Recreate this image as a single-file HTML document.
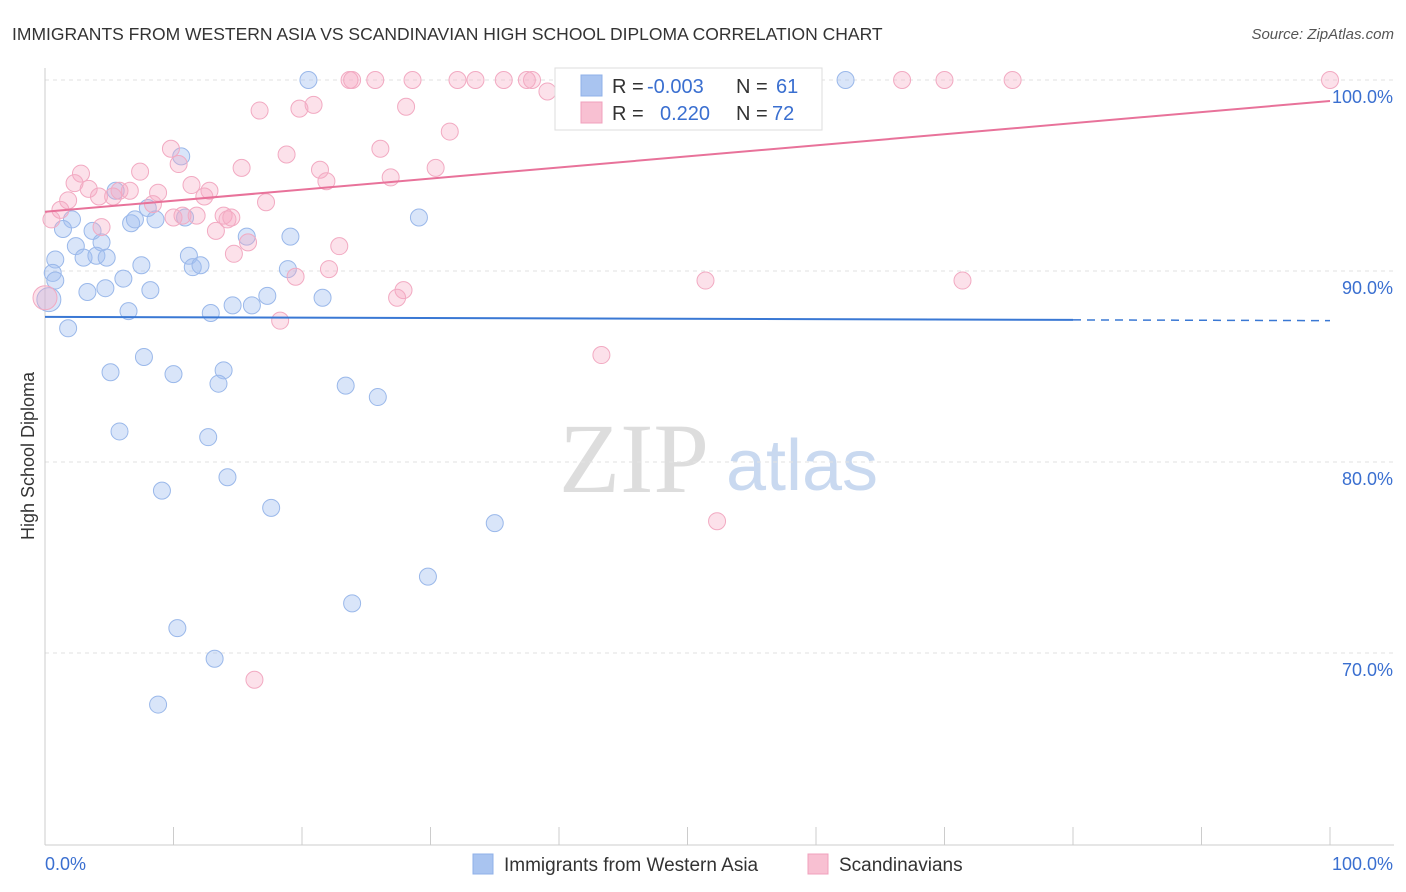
<!DOCTYPE html>
<html><head><meta charset="utf-8"><style>
body{margin:0;background:#fff;font-family:"Liberation Sans",sans-serif;}
svg{display:block}
</style></head><body>
<svg id="chart" width="1406" height="892">
<text x="12" y="40" font-size="17.5" fill="#333">IMMIGRANTS FROM WESTERN ASIA VS SCANDINAVIAN HIGH SCHOOL DIPLOMA CORRELATION CHART</text>
<text x="1394" y="39" font-size="15" fill="#555" font-style="italic" text-anchor="end">Source: ZipAtlas.com</text>
<text transform="translate(34,456) rotate(-90)" font-size="18" fill="#333" text-anchor="middle">High School Diploma</text>
<g>
<text x="634" y="492" font-size="100" fill="#ddd" font-family="Liberation Serif,serif" text-anchor="middle">ZIP</text>
<text x="802" y="490" font-size="72" fill="#c9d9f0" text-anchor="middle">atlas</text>
</g>
<g id="grid"></g><g id="axes"></g><g id="pts"></g><g id="trend"></g>
<g>
<rect x="555" y="68" width="267" height="62" fill="#fff" stroke="#ddd"/>
<rect x="581" y="75" width="21" height="21" fill="#a9c4f0" stroke="#8fb0e8"/>
<rect x="581" y="102" width="21" height="21" fill="#f8c0d2" stroke="#f0a0bc"/>
<text x="612" y="93" font-size="20" fill="#333">R = </text><text x="647" y="93" font-size="20" fill="#3a6fd0">-0.003</text>
<text x="736" y="93" font-size="20" fill="#333">N = </text><text x="776" y="93" font-size="20" fill="#3a6fd0">61</text>
<text x="612" y="120" font-size="20" fill="#333">R = </text><text x="660" y="120" font-size="20" fill="#3a6fd0">0.220</text>
<text x="736" y="120" font-size="20" fill="#333">N = </text><text x="772" y="120" font-size="20" fill="#3a6fd0">72</text>
</g>
<g>
<rect x="473" y="854" width="20" height="20" fill="#a9c4f0" stroke="#8fb0e8"/>
<text x="504" y="871" font-size="19" fill="#333">Immigrants from Western Asia</text>
<rect x="808" y="854" width="20" height="20" fill="#f8c0d2" stroke="#f0a0bc"/>
<text x="839" y="871" font-size="19" fill="#333">Scandinavians</text>
</g>
</svg>
<script>
const blueX=[20.5,62.3,10.6,5.5,8.0,2.1,6.7,7.0,8.6,10.9,3.7,1.4,29.1,2.4,4.4,19.1,15.7,0.8,3.0,4.0,4.8,11.2,7.5,11.5,12.1,18.9,0.6,0.8,6.1,3.3,4.7,8.2,17.3,21.6,14.6,16.1,6.5,12.9,1.8,7.7,5.1,10.0,13.9,13.5,23.4,25.9,5.8,12.7,9.1,14.2,17.6,35.0,29.8,23.9,10.3,13.2,8.8,0.3];
const blueY=[100,100,96.0,94.2,93.3,92.7,92.5,92.7,92.7,92.8,92.1,92.2,92.8,91.3,91.5,91.8,91.8,90.6,90.7,90.8,90.7,90.8,90.3,90.2,90.3,90.1,89.9,89.5,89.6,88.9,89.1,89.0,88.7,88.6,88.2,88.2,87.9,87.8,87.0,85.5,84.7,84.6,84.8,84.1,84.0,83.4,81.6,81.3,78.5,79.2,77.6,76.8,74.0,72.6,71.3,69.7,67.3,88.5];
const pinkX=[23.7,25.7,28.6,32.1,33.5,35.7,37.5,37.9,23.9,66.7,70.0,75.3,100,39.1,47.4,16.7,19.8,20.9,28.1,31.5,26.1,9.8,18.8,10.4,15.3,21.4,30.4,2.8,7.4,2.3,26.9,11.4,21.9,3.4,8.8,12.8,4.2,6.6,5.3,1.8,12.4,17.2,1.2,8.4,10.0,10.7,11.8,13.9,14.2,0.5,4.4,13.3,15.8,22.9,14.7,22.1,19.5,51.4,71.4,27.9,27.4,18.3,43.3,52.3,16.3,5.8,14.5,0];
const pinkY=[100,100,100,100,100,100,100,100,100,100,100,100,100,99.4,100,98.4,98.5,98.7,98.6,97.3,96.4,96.4,96.1,95.6,95.4,95.3,95.4,95.1,95.2,94.6,94.9,94.5,94.7,94.3,94.1,94.2,93.9,94.2,93.9,93.7,93.9,93.6,93.2,93.5,92.8,92.9,92.9,92.9,92.7,92.7,92.3,92.1,91.5,91.3,90.9,90.1,89.7,89.5,89.5,89.0,88.6,87.4,85.6,76.9,68.6,94.2,92.8,88.6];
const blueTrend=[87.6,87.4];
const pinkTrend=[93.1,98.9];
const yTicks=[100,90,80,70];
const yTickLabels=["100.0%","90.0%","80.0%","70.0%"];
const xTicks=[0,10,20,30,40,50,60,70,80,90,100];

const X=v=>45+v*12.85, Y=v=>80+(100-v)*19.1;
const NS="http://www.w3.org/2000/svg";
function mk(tag,attrs,parent){const e=document.createElementNS(NS,tag);for(const k in attrs)e.setAttribute(k,attrs[k]);parent.appendChild(e);return e;}
const grid=document.getElementById('grid'),axes=document.getElementById('axes'),pts=document.getElementById('pts'),tr=document.getElementById('trend');
yTicks.forEach((t,i)=>{
 const l=mk('line',{x1:45,x2:1394,y1:Y(t),y2:Y(t),stroke:'#e2e2e2','stroke-dasharray':'4,4'},grid);
 
 
 const tx=mk('text',{x:1393,y:Y(t)+23,'font-size':18,fill:'#3a6fd0','text-anchor':'end'},axes);
 tx.textContent=yTickLabels[i];
 
 
});
const ax=mk('line',{x1:45,x2:45,y1:68,y2:845,stroke:'#ccc'},axes);


const bx=mk('line',{x1:45,x2:1394,y1:845,y2:845,stroke:'#ccc'},axes);


xTicks.forEach(t=>{
 const l=mk('line',{x1:X(t),x2:X(t),y1:827,y2:845,stroke:'#ccc'},axes);
 
 
});
const xl0=mk('text',{x:45,y:870,'font-size':18,fill:'#3a6fd0'},axes);xl0.textContent='0.0%';


const xl1=mk('text',{x:1393,y:870,'font-size':18,fill:'#3a6fd0','text-anchor':'end'},axes);xl1.textContent='100.0%';


function dots(xs,ys,fill,stroke,name,bigIdx){
 xs.forEach((x,i)=>{
  const c=mk('circle',{cx:X(x),cy:Y(ys[i]),r:i===bigIdx?12:8.5,fill:fill,stroke:stroke,'stroke-width':1},pts);
  
  
 });
}
dots(blueX,blueY,'rgba(160,190,240,0.4)','#9ab8ea','point-western-asia',blueX.length-1);
dots(pinkX,pinkY,'rgba(245,170,195,0.35)','#f2aac2','point-scandinavians',pinkX.length-1);
const bt=mk('line',{x1:X(0),y1:Y(blueTrend[0]),x2:X(80),y2:Y(blueTrend[0]+(blueTrend[1]-blueTrend[0])*0.8),stroke:'#3a78d4','stroke-width':2},tr);


const bd=mk('line',{x1:X(80),y1:Y(blueTrend[0]+(blueTrend[1]-blueTrend[0])*0.8),x2:X(100),y2:Y(blueTrend[1]),stroke:'#3a78d4','stroke-width':1.5,'stroke-dasharray':'8,6'},tr);


const pt=mk('line',{x1:X(0),y1:Y(pinkTrend[0]),x2:X(100),y2:Y(pinkTrend[1]),stroke:'#e8729a','stroke-width':2},tr);


</script>
</body></html>
